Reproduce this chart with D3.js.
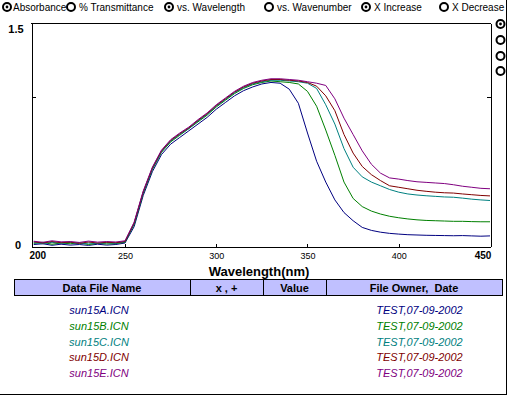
<!DOCTYPE html>
<html>
<head>
<meta charset="utf-8">
<script src="https://cdn.jsdelivr.net/npm/d3@7"></script>
<style>
  body { margin: 0; background: #fff; }
  svg { display: block; font-family: "Liberation Sans", Arial, sans-serif; }
  .axis path, .axis line { stroke: #000; shape-rendering: crispEdges; }
  .axis text { font-size: 9px; fill: #000; }
  .line { fill: none; stroke-width: 1; }
</style>
</head>
<body>
<div id="app"></div>
<script>
const wavelengths = [200, 205, 210, 215, 220, 225, 230, 235, 240, 245,
  250, 255, 260, 265, 270, 275, 280, 285, 290, 295,
  300, 305, 310, 315, 320, 325, 330, 335, 340, 345,
  350, 355, 360, 365, 370, 375, 380, 385, 390, 395,
  400, 405, 410, 415, 420, 425, 430, 435, 440, 445, 450];

const sun15A = [0.010, 0.015, 0.005, 0.012, 0.006, 0.010, 0.004, 0.012, 0.006, 0.010,
  0.020, 0.13, 0.34, 0.50, 0.615, 0.685, 0.73, 0.775, 0.82, 0.865,
  0.92, 0.965, 1.01, 1.045, 1.07, 1.09, 1.10, 1.095, 1.055, 0.96,
  0.76, 0.57, 0.43, 0.31, 0.225, 0.17, 0.125, 0.105, 0.093, 0.085,
  0.08, 0.076, 0.074, 0.072, 0.071, 0.07, 0.069, 0.07, 0.068, 0.066, 0.068];
const sun15B = [0.018, 0.025, 0.012, 0.020, 0.015, 0.022, 0.010, 0.018, 0.014, 0.016,
  0.025, 0.145, 0.355, 0.515, 0.63, 0.70, 0.745, 0.79, 0.835, 0.88,
  0.935, 0.98, 1.025, 1.06, 1.085, 1.10, 1.11, 1.105, 1.10, 1.09,
  1.04, 0.94, 0.78, 0.61, 0.43, 0.32, 0.265, 0.235, 0.215, 0.20,
  0.19, 0.182, 0.176, 0.172, 0.17, 0.168, 0.166, 0.166, 0.164, 0.163, 0.163];
const sun15C = [0.022, 0.015, 0.025, 0.018, 0.024, 0.014, 0.020, 0.016, 0.022, 0.018,
  0.028, 0.15, 0.36, 0.52, 0.635, 0.705, 0.75, 0.79, 0.84, 0.885,
  0.94, 0.985, 1.03, 1.065, 1.09, 1.105, 1.115, 1.115, 1.11, 1.105,
  1.095, 1.06, 0.95, 0.82, 0.655, 0.53, 0.465, 0.43, 0.405, 0.38,
  0.362, 0.35, 0.343, 0.338, 0.334, 0.33, 0.328, 0.322, 0.315, 0.31, 0.306];
const sun15D = [0.028, 0.020, 0.030, 0.022, 0.026, 0.018, 0.027, 0.020, 0.025, 0.022,
  0.030, 0.155, 0.365, 0.525, 0.64, 0.71, 0.755, 0.795, 0.845, 0.89,
  0.945, 0.99, 1.035, 1.07, 1.095, 1.11, 1.12, 1.12, 1.115, 1.11,
  1.10, 1.075, 1.01, 0.91, 0.75, 0.625, 0.535, 0.48, 0.44, 0.405,
  0.395, 0.385, 0.375, 0.368, 0.362, 0.358, 0.356, 0.35, 0.345, 0.34, 0.337];
const sun15E = [0.032, 0.025, 0.035, 0.028, 0.030, 0.024, 0.033, 0.026, 0.030, 0.027,
  0.035, 0.16, 0.37, 0.53, 0.645, 0.715, 0.76, 0.80, 0.85, 0.895,
  0.95, 0.995, 1.04, 1.075, 1.10, 1.115, 1.125, 1.125, 1.12, 1.115,
  1.105, 1.095, 1.08, 0.99, 0.86, 0.75, 0.64, 0.55, 0.49, 0.458,
  0.45, 0.44, 0.432, 0.428, 0.424, 0.42, 0.412, 0.402, 0.395, 0.388, 0.385];

const fileNames = ["sun15A.ICN", "sun15B.ICN", "sun15C.ICN", "sun15D.ICN", "sun15E.ICN"];
const owners    = ["TEST,07-09-2002", "TEST,07-09-2002", "TEST,07-09-2002", "TEST,07-09-2002", "TEST,07-09-2002"];
const colors    = ["#000080", "#008000", "#008080", "#800000", "#800080"];
const xTicks    = [250, 300, 350, 400];
const headers   = ["Data File Name", "x , +", "Value", "File Owner,  Date"];
const options   = ["Absorbance", "% Transmittance", "vs. Wavelength", "vs. Wavenumber", "X Increase", "X Decrease"];
const checked   = [true, false, true, false, true, false];

const series = [sun15A, sun15B, sun15C, sun15D, sun15E];

const W = 512, H = 397,
      plot = { left: 31, right: 490, top: 23, bottom: 246 };

const x = d3.scaleLinear().domain([198.5, 450]).range([plot.left, plot.right]),
      y = d3.scaleLinear().domain([0, 1.5]).range([plot.bottom, plot.top]);

const svg = d3.select("#app").append("svg")
  .attr("width", W)
  .attr("height", H);

svg.append("rect").attr("width", W).attr("height", H).attr("fill", "#fff");

/* outer frame, right and bottom */
svg.append("path")
  .attr("d", "M506.5,0V394.5H0")
  .attr("fill", "none")
  .attr("stroke", "#000")
  .attr("shape-rendering", "crispEdges");

/* radio row at the top */
const optX = [7, 71, 169, 269, 366, 444];
const radio = svg.append("g").selectAll("g")
  .data(options)
  .enter().append("g")
  .attr("transform", (d, i) => `translate(${optX[i]},7)`);
radio.append("circle").attr("r", 4).attr("fill", "#fff").attr("stroke", "#000").attr("stroke-width", 2);
radio.filter((d, i) => checked[i]).append("circle").attr("r", 1.4).attr("fill", "#000");
radio.append("text")
  .attr("x", (d, i) => i === 0 ? 6 : 8)
  .attr("y", 3.5)
  .style("font-size", "10px")
  .text(d => d);

/* radio column on the right */
const side = svg.append("g").selectAll("g")
  .data([24, 40, 56, 71])
  .enter().append("g")
  .attr("transform", d => `translate(500.5,${d})`);
side.append("circle").attr("r", 4).attr("fill", "#fff").attr("stroke", "#000").attr("stroke-width", 2);
side.filter((d, i) => i === 0).append("circle").attr("r", 1.4).attr("fill", "#000");

/* axes */
svg.append("g")
  .attr("class", "x axis")
  .attr("transform", `translate(0,${plot.bottom + 0.5})`)
  .call(d3.axisBottom(x).tickValues(xTicks).tickSizeInner(-3).tickSizeOuter(0).tickPadding(6));

svg.append("g")
  .attr("class", "y axis")
  .attr("transform", `translate(${plot.left + 0.5},0)`)
  .call(d3.axisLeft(y).tickValues([1]).tickSizeInner(-4).tickSizeOuter(0).tickFormat(""));

svg.append("g")
  .attr("class", "y axis")
  .attr("transform", `translate(${plot.right + 0.5},0)`)
  .call(d3.axisRight(y).tickValues([1]).tickSizeInner(-4).tickSizeOuter(0).tickFormat(""));

svg.append("line")
  .attr("x1", plot.left).attr("x2", plot.right + 1)
  .attr("y1", plot.top + 0.5).attr("y2", plot.top + 0.5)
  .attr("stroke", "#000")
  .attr("shape-rendering", "crispEdges");

/* bold end labels */
const bold = svg.append("g").style("font-weight", "bold").style("font-size", "10px");
bold.append("text").attr("x", x(200) + 4).attr("y", 259).attr("text-anchor", "middle").text("200");
bold.append("text").attr("x", x(450) - 7).attr("y", 259).attr("text-anchor", "middle").text("450");
bold.append("text").attr("x", 16).attr("y", y(1.5) + 10).attr("text-anchor", "middle").style("font-size", "11px").text("1.5");
bold.append("text").attr("x", 18).attr("y", y(0) + 3).attr("text-anchor", "middle").style("font-size", "11px").text("0");

svg.append("text")
  .attr("x", 259).attr("y", 276)
  .attr("text-anchor", "middle")
  .style("font-weight", "bold")
  .style("font-size", "13px")
  .text("Wavelength(nm)");

/* spectra */
const line = d3.line()
  .x((d, i) => x(wavelengths[i]))
  .y(d => y(d))
  .curve(d3.curveLinear);

svg.append("g").selectAll("path")
  .data(series)
  .enter().append("path")
  .attr("class", "line")
  .attr("stroke", (d, i) => colors[i])
  .attr("d", line);

/* file table */
const colEdges = [14, 190, 263, 326, 502];
svg.append("rect")
  .attr("x", colEdges[0] + 0.5).attr("y", 279.5)
  .attr("width", colEdges[4] - colEdges[0]).attr("height", 16)
  .attr("fill", "#c0c0ff").attr("stroke", "#000")
  .attr("shape-rendering", "crispEdges");
svg.append("g").selectAll("line")
  .data(colEdges.slice(1, 4))
  .enter().append("line")
  .attr("x1", d => d + 0.5).attr("x2", d => d + 0.5)
  .attr("y1", 279.5).attr("y2", 295.5)
  .attr("stroke", "#000")
  .attr("shape-rendering", "crispEdges");
svg.append("g").selectAll("text")
  .data(headers)
  .enter().append("text")
  .attr("x", (d, i) => (colEdges[i] + colEdges[i + 1]) / 2)
  .attr("y", 291.5)
  .attr("text-anchor", "middle")
  .style("font-weight", "bold")
  .style("font-size", "11px")
  .style("white-space", "pre")
  .text(d => d);

const rows = svg.append("g").selectAll("g")
  .data(fileNames)
  .enter().append("g")
  .attr("transform", (d, i) => `translate(0,${314 + i * 15.8})`)
  .style("font-style", "italic")
  .style("font-size", "11px")
  .attr("fill", (d, i) => colors[i]);
rows.append("text").attr("x", 99).attr("text-anchor", "middle").text(d => d);
rows.append("text").attr("x", 419.5).attr("text-anchor", "middle").text((d, i) => owners[i]);
</script>
</body>
</html>
